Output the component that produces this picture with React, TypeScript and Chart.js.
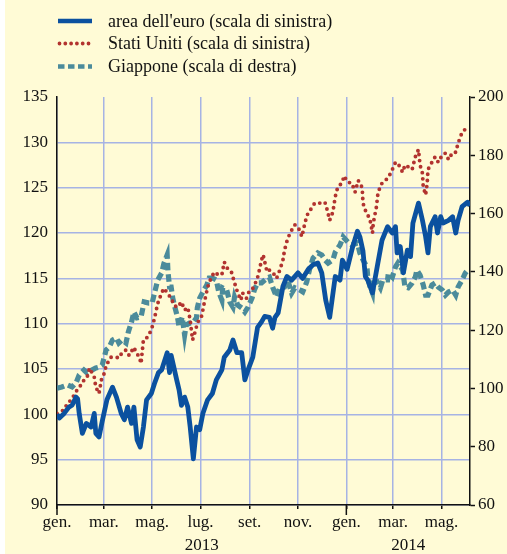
import React, { useEffect, useRef } from 'react';
import { Chart, registerables } from 'chart.js';

Chart.register(...registerables);

// x = days since 1 Jan 2013
const monthTicks = [0, 59, 120, 181, 243, 304, 365, 424, 485];
const monthLabels = ['gen.', 'mar.', 'mag.', 'lug.', 'set.', 'nov.', 'gen.', 'mar.', 'mag.'];
const yearLabels = ['2013', '2014'];
const yearMid = [182.5, 443];
const xMax = 521;

const euroDays = [0, 3, 9, 15, 19, 24, 26, 28, 32, 37, 43, 47, 49, 53, 57, 63, 70, 75, 81, 85, 89, 94, 97, 101, 105, 109, 113, 119, 123, 128, 132, 139, 142, 144, 151, 154, 157, 161, 165, 168, 172, 176, 180, 184, 190, 196, 201, 208, 211, 218, 222, 227, 233, 237, 241, 247, 253, 258, 262, 268, 272, 275, 279, 285, 290, 296, 304, 310, 317, 323, 329, 334, 339, 344, 351, 357, 360, 366, 373, 379, 382, 386, 389, 392, 398, 404, 410, 417, 423, 427, 429, 433, 437, 442, 446, 449, 456, 461, 465, 468, 471, 477, 480, 484, 487, 494, 499, 503, 506, 511, 518, 521];
const euroVals = [100.0, 99.6, 100.1, 100.8, 101.0, 101.9, 101.7, 100.1, 97.9, 99.0, 98.6, 100.1, 97.9, 97.5, 99.2, 101.6, 103.0, 101.9, 100.1, 99.4, 100.8, 99.0, 100.8, 97.2, 96.4, 98.6, 101.6, 102.3, 103.4, 104.6, 104.9, 106.8, 104.6, 106.5, 103.8, 102.7, 101.0, 101.9, 100.8, 98.6, 95.1, 98.6, 98.3, 100.1, 101.6, 102.3, 103.8, 104.9, 106.3, 107.1, 108.2, 106.8, 106.8, 103.8, 104.9, 106.3, 109.6, 110.2, 110.8, 110.7, 109.5, 110.7, 111.2, 114.1, 115.2, 114.8, 115.6, 115.0, 116.0, 116.5, 116.7, 115.6, 112.6, 110.7, 115.2, 114.8, 117.0, 116.0, 118.5, 120.2, 119.6, 118.0, 115.2, 114.8, 113.4, 116.3, 119.2, 120.7, 120.0, 120.7, 117.8, 118.5, 115.6, 118.1, 117.4, 121.1, 123.3, 121.4, 119.6, 117.8, 120.7, 121.8, 120.0, 121.8, 121.1, 121.4, 121.8, 120.0, 121.4, 122.9, 123.4, 123.0];

const usDays = [0, 9, 13, 18, 24, 28, 32, 34, 38, 41, 47, 49, 53, 56, 60, 62, 68, 75, 78, 82, 87, 91, 97, 100, 104, 106, 109, 114, 119, 123, 127, 132, 135, 139, 144, 148, 152, 157, 161, 165, 168, 171, 175, 177, 182, 184, 186, 190, 195, 199, 203, 208, 211, 215, 220, 224, 228, 232, 234, 239, 243, 247, 252, 254, 258, 260, 265, 268, 272, 277, 281, 285, 287, 291, 296, 300, 304, 309, 313, 317, 322, 325, 332, 338, 341, 344, 348, 351, 354, 360, 362, 367, 372, 376, 380, 385, 386, 389, 391, 395, 398, 399, 403, 405, 410, 414, 418, 423, 427, 430, 436, 439, 443, 448, 452, 456, 458, 461, 462, 465, 467, 468, 473, 477, 481, 486, 490, 494, 499, 503, 506, 511, 518];
const usVals = [100.1, 100.5, 101.2, 101.6, 102.5, 103.0, 103.4, 103.8, 104.1, 105.1, 104.1, 103.0, 102.3, 103.8, 104.6, 105.4, 106.3, 106.3, 106.2, 106.8, 107.1, 106.5, 107.4, 106.8, 106.3, 105.6, 108.2, 108.5, 109.3, 110.6, 112.2, 113.4, 113.9, 113.4, 112.8, 112.0, 111.8, 112.4, 111.5, 111.8, 110.4, 108.2, 109.3, 110.1, 110.7, 111.5, 112.4, 114.0, 115.2, 115.7, 115.4, 115.4, 116.8, 116.1, 115.7, 114.5, 113.4, 112.6, 113.4, 112.8, 113.7, 113.9, 114.8, 115.4, 117.0, 117.6, 115.7, 115.9, 115.7, 115.0, 115.9, 117.0, 118.1, 119.4, 120.3, 120.9, 120.7, 119.6, 121.2, 122.3, 122.8, 123.3, 123.3, 123.4, 122.5, 121.4, 122.3, 124.0, 125.0, 125.6, 126.3, 125.6, 125.5, 124.5, 125.8, 125.0, 123.3, 122.5, 122.2, 121.4, 120.0, 121.1, 122.9, 124.5, 125.5, 125.8, 126.1, 127.0, 127.8, 127.7, 126.7, 127.5, 127.3, 127.0, 128.4, 129.2, 127.5, 126.6, 125.1, 124.2, 125.5, 127.0, 127.8, 128.4, 127.8, 128.6, 128.8, 128.1, 128.9, 128.9, 129.9, 131.1, 131.7];

const jpDays = [0, 6, 13, 19, 24, 28, 34, 38, 44, 49, 53, 57, 62, 66, 70, 75, 78, 82, 87, 90, 94, 97, 101, 106, 110, 116, 120, 123, 127, 132, 135, 139, 140, 142, 144, 146, 148, 152, 154, 158, 161, 163, 167, 171, 176, 177, 180, 184, 189, 192, 196, 201, 204, 208, 209, 214, 218, 222, 224, 228, 233, 237, 241, 246, 249, 253, 258, 265, 268, 272, 277, 281, 287, 291, 296, 300, 306, 310, 315, 319, 323, 329, 334, 338, 342, 348, 351, 357, 361, 367, 372, 379, 382, 386, 391, 392, 395, 398, 399, 404, 408, 411, 417, 418, 423, 427, 430, 436, 439, 443, 448, 452, 454, 458, 462, 465, 468, 473, 477, 481, 486, 490, 494, 499, 503, 506, 511, 515, 518];
const jpVals = [100.1, 100.5, 101.2, 100.5, 101.9, 104.6, 106.3, 105.3, 106.3, 107.0, 107.3, 108.0, 113.2, 114.2, 116.6, 117.3, 115.6, 116.6, 115.6, 119.4, 122.8, 126.2, 124.2, 124.5, 129.7, 129.3, 129.3, 132.7, 137.2, 139.6, 143.0, 145.8, 140.0, 134.8, 134.8, 131.0, 128.6, 124.5, 121.1, 124.5, 118.3, 121.8, 122.4, 122.4, 124.2, 127.6, 131.0, 133.1, 135.5, 137.9, 137.9, 137.2, 133.1, 130.3, 134.5, 133.8, 129.7, 127.9, 131.4, 128.6, 127.6, 126.2, 127.9, 131.0, 133.8, 136.2, 136.2, 137.9, 138.2, 134.8, 131.4, 134.5, 134.8, 137.2, 132.7, 134.5, 133.8, 133.1, 136.5, 141.3, 144.7, 146.5, 145.8, 144.1, 143.0, 144.1, 146.8, 149.2, 152.0, 150.2, 149.2, 149.9, 146.5, 144.1, 141.7, 138.2, 134.8, 132.7, 136.2, 136.5, 134.5, 137.2, 137.2, 139.6, 138.2, 141.7, 143.0, 140.6, 134.8, 134.5, 136.2, 138.2, 140.6, 138.9, 135.5, 132.0, 132.0, 135.5, 136.2, 134.8, 133.8, 132.0, 133.1, 133.8, 132.0, 134.8, 137.2, 139.6, 140.6];

const seriesNames = ['area dell\'euro (scala di sinistra)', 'Stati Uniti (scala di sinistra)', 'Giappone (scala di destra)'];

const BG = '#fffbd6';
const GRID = '#a6b3e4';
const BLUE = '#0b519f';
const RED = '#b2332f';
const TEAL = '#4b8b9b';
const FONT = '"Liberation Serif", serif';
const TICK_SIZE = 17;
const LEGEND_SIZE = 18;

export default function App() {
  const ref = useRef<HTMLCanvasElement>(null);
  useEffect(() => {
    document.body.style.margin = '0';
    document.body.style.background = '#ffffff';
    const toPts = (d: number[], v: number[]) => d.map((x, i) => ({ x, y: v[i] }));

    const decor = {
      id: 'decor',
      beforeDraw(chart: any) {
        const c = chart.ctx;
        c.save();
        c.fillStyle = BG;
        c.fillRect(5, 0, chart.width - 5, chart.height);
        c.restore();
      },
      afterDraw(chart: any) {
        const c = chart.ctx;
        const xs = chart.scales.x;
        const area = chart.chartArea;
        c.save();
        const styles = [
          { color: BLUE, width: 4.5, dash: [] as number[], cap: 'butt' },
          { color: RED, width: 3.8, dash: [0, 5.8], cap: 'round' },
          { color: TEAL, width: 4.5, dash: [6.5, 3.5], cap: 'butt' },
        ];
        const rowY = [21, 43.5, 66.5];
        styles.forEach((s, i) => {
          c.beginPath();
          c.setLineDash(s.dash);
          c.lineCap = s.cap;
          c.lineWidth = s.width;
          c.strokeStyle = s.color;
          c.moveTo(i === 1 ? 59.5 : 58, rowY[i]);
          c.lineTo(92, rowY[i]);
          c.stroke();
          c.setLineDash([]);
          c.fillStyle = '#111';
          c.font = `${LEGEND_SIZE}px ${FONT}`;
          c.textBaseline = 'middle';
          c.textAlign = 'left';
          c.fillText(seriesNames[i], 108, rowY[i] + 1);
        });
        c.font = `${TICK_SIZE}px ${FONT}`;
        c.textAlign = 'center';
        c.textBaseline = 'middle';
        c.fillStyle = '#111';
        yearLabels.forEach((t, i) => {
          c.fillText(t, xs.getPixelForValue(yearMid[i]), 546);
        });
        c.strokeStyle = '#111';
        c.lineWidth = 1.5;
        [0, 365].forEach((d) => {
          const px = xs.getPixelForValue(d);
          c.beginPath();
          c.moveTo(px, area.bottom);
          c.lineTo(px, area.bottom + 10);
          c.stroke();
        });
        c.restore();
      },
    };

    const chart = new Chart(ref.current as HTMLCanvasElement, {
      type: 'line',
      data: {
        datasets: [
          {
            label: seriesNames[0],
            data: toPts(euroDays, euroVals),
            borderColor: BLUE,
            borderWidth: 4.8,
            pointRadius: 0,
            tension: 0,
            yAxisID: 'y',
            borderJoinStyle: 'round',
          },
          {
            label: seriesNames[1],
            data: toPts(usDays, usVals),
            borderColor: RED,
            borderWidth: 3.9,
            borderDash: [0, 6.2],
            borderCapStyle: 'round',
            pointRadius: 0,
            tension: 0,
            yAxisID: 'y',
          },
          {
            label: seriesNames[2],
            data: toPts(jpDays, jpVals),
            borderColor: TEAL,
            borderWidth: 5.2,
            borderDash: [7.5, 4],
            pointRadius: 0,
            tension: 0,
            yAxisID: 'y2',
          },
        ],
      },
      options: {
        animation: false,
        responsive: false,
        events: [],
        layout: { padding: { top: 97, left: 0, right: 0, bottom: 0 } },
        plugins: { legend: { display: false }, tooltip: { enabled: false } },
        scales: {
          x: {
            type: 'linear',
            min: 0,
            max: xMax,
            afterBuildTicks: (s: any) => {
              s.ticks = monthTicks.map((v) => ({ value: v }));
            },
            afterFit: (s: any) => {
              s.height = 49;
            },
            ticks: {
              autoSkip: false,
              maxRotation: 0,
              padding: 3,
              color: '#111',
              font: { family: FONT, size: TICK_SIZE },
              callback: (v: any) => {
                const i = monthTicks.indexOf(Number(v));
                return i >= 0 ? monthLabels[i] : '';
              },
            },
            grid: { color: GRID, lineWidth: 1.5, tickLength: 4, tickColor: '#111', tickWidth: 1.5 },
            border: { color: '#111', width: 1.5 },
          },
          y: {
            position: 'left',
            min: 90,
            max: 135,
            afterFit: (s: any) => {
              s.width = 57;
            },
            ticks: {
              stepSize: 5,
              padding: 9,
              color: '#111',
              font: { family: FONT, size: TICK_SIZE },
            },
            grid: {
              color: (ctx: any) => (ctx.tick && ctx.tick.value === 135 ? 'rgba(0,0,0,0)' : GRID),
              lineWidth: 1.5,
              drawTicks: false,
            },
            border: { color: '#111', width: 1.5 },
          },
          y2: {
            position: 'right',
            min: 60,
            max: 200,
            afterFit: (s: any) => {
              s.width = 37;
            },
            ticks: {
              stepSize: 20,
              padding: 3,
              color: '#111',
              font: { family: FONT, size: TICK_SIZE },
            },
            grid: { drawOnChartArea: false, tickLength: 5, tickColor: '#111', tickWidth: 1.5 },
            border: { color: '#111', width: 1.5 },
          },
        },
      },
      plugins: [decor],
    } as any);

    let alive = true;
    const fonts = (document as any).fonts;
    if (fonts && fonts.load) {
      Promise.all([
        fonts.load(`${TICK_SIZE}px "Liberation Serif"`),
        fonts.load(`${LEGEND_SIZE}px "Liberation Serif"`),
      ]).then(() => {
        if (alive) chart.update();
      });
      fonts.ready.then(() => {
        if (alive) chart.update();
      });
    }
    return () => {
      alive = false;
      chart.destroy();
    };
  }, []);
  return (
    <div style={{ position: 'relative', width: 507, height: 554 }}>
      <span
        aria-hidden="true"
        style={{ position: 'absolute', left: -9999, top: 0, fontFamily: '"Liberation Serif"', fontSize: 17 }}
      >
        gen. 2013
      </span>
      <canvas ref={ref} width={507} height={554} style={{ display: 'block' }} />
    </div>
  );
}
